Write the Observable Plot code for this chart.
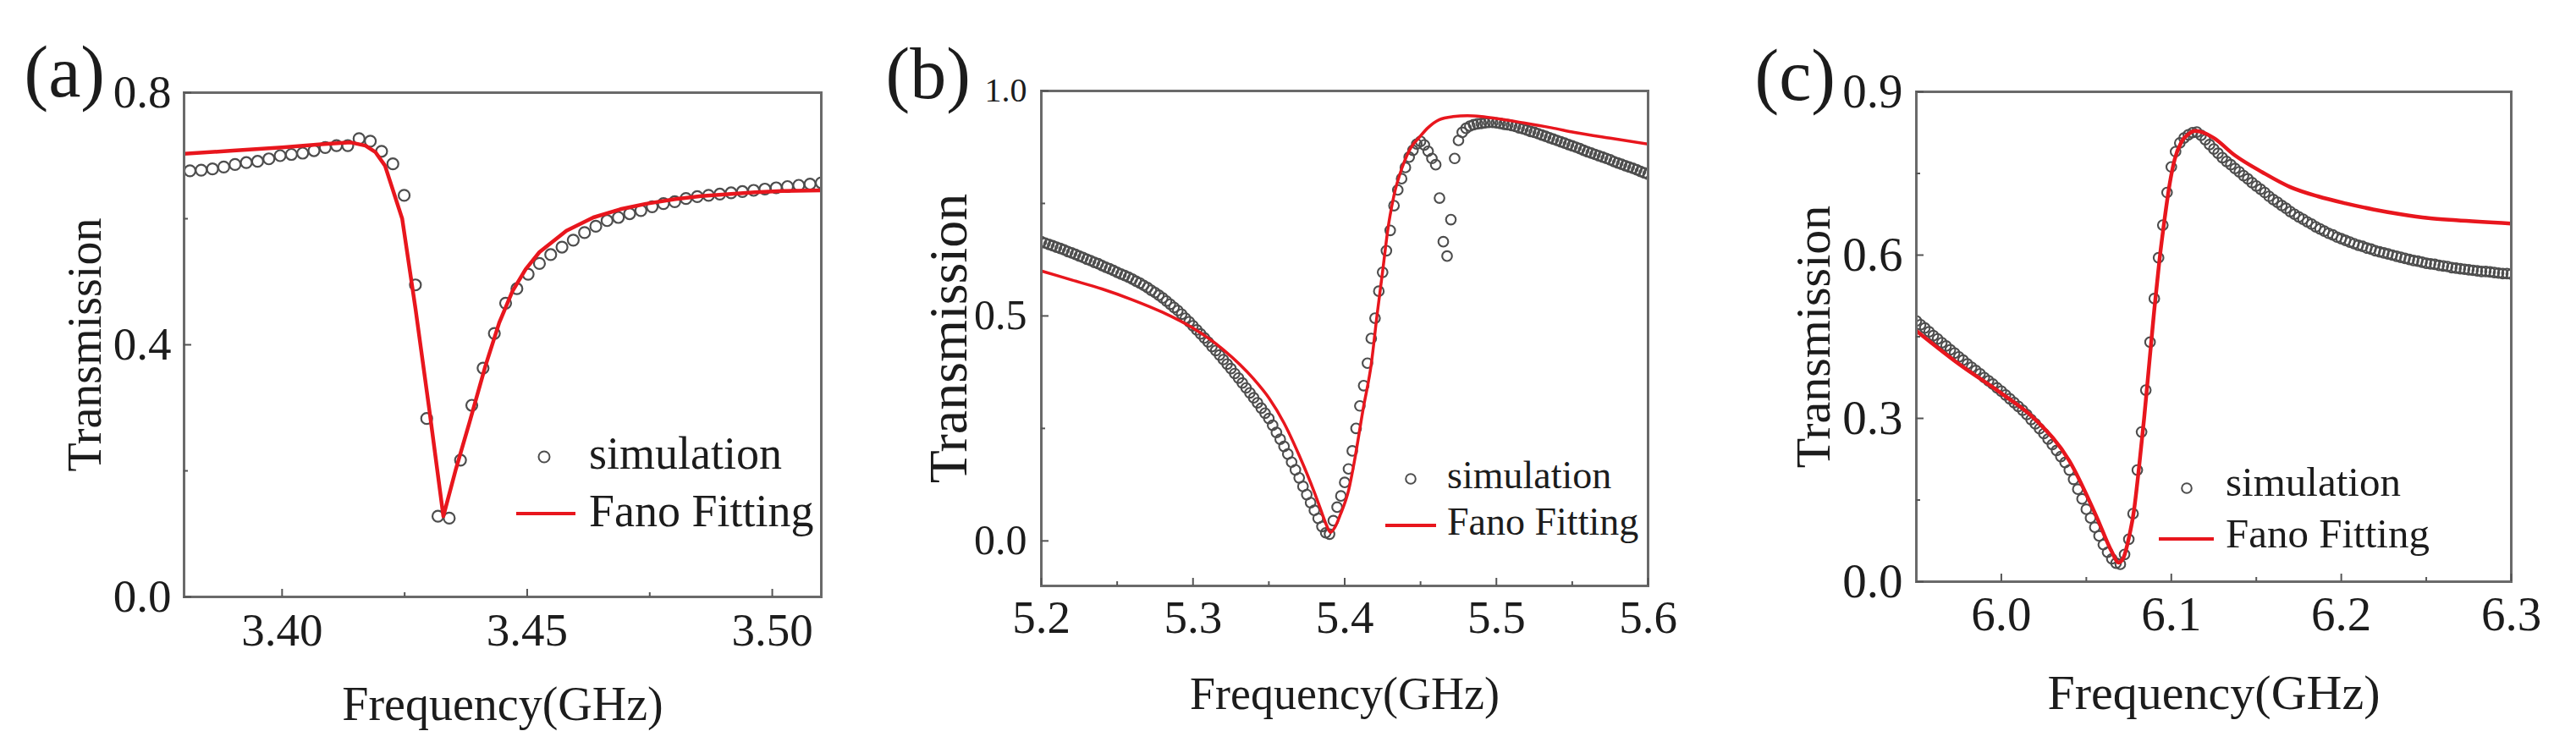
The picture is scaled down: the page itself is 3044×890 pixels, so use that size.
<!DOCTYPE html>
<html><head><meta charset="utf-8">
<script src="https://cdn.jsdelivr.net/npm/d3@7"></script>
<script src="https://cdn.jsdelivr.net/npm/@observablehq/plot@0.6"></script>
<style>
html,body{margin:0;padding:0;background:#fff;}
#fig{position:relative;width:3044px;height:890px;background:#fff;overflow:hidden;}
#fig svg{position:absolute;top:0;overflow:visible;}
</style></head><body><div id="fig"></div>
<script>
// ---------- Panel (a) ----------
const freqA = [3.3812,3.3835,3.3858,3.3881,3.3904,3.3927,3.3950,3.3973,3.3996,3.4019,3.4042,3.4065,3.4088,3.4111,3.4134,
3.4157,3.4180,3.4203,3.4226,3.4249,3.4272,3.4295,3.4318,3.4341,3.4364,3.4387,3.4410,3.4433,3.4456,3.4479,
3.4502,3.4525,3.4548,3.4571,3.4594,3.4617,3.4640,3.4663,3.4686,3.4709,3.4732,3.4755,3.4778,3.4801,3.4824,
3.4847,3.4870,3.4893,3.4916,3.4939,3.4962,3.4985,3.5008,3.5031,3.5054,3.5077,3.5100];
const simA = [0.676,0.677,0.679,0.682,0.686,0.689,0.691,0.695,0.700,0.702,0.704,0.708,0.713,0.716,0.716,
0.727,0.723,0.707,0.687,0.637,0.495,0.283,0.128,0.125,0.217,0.304,0.363,0.418,0.466,0.489,
0.512,0.529,0.543,0.555,0.566,0.578,0.588,0.597,0.602,0.608,0.613,0.619,0.624,0.627,0.632,
0.635,0.637,0.639,0.641,0.643,0.645,0.647,0.649,0.651,0.653,0.655,0.657];
const fitFreqA = [3.3800,3.3900,3.4000,3.4080,3.4140,3.4170,3.4190,3.4210,3.4245,3.4272,3.4300,3.4329,3.4355,3.4382,3.4415,
3.4443,3.4470,3.4497,3.4525,3.4580,3.4635,3.4690,3.4745,3.4800,3.4855,3.4910,3.4965,3.5020,3.5100];
const fitA = [0.703,0.708,0.713,0.718,0.721,0.716,0.706,0.684,0.600,0.458,0.299,0.128,0.204,0.276,0.367,
0.435,0.485,0.520,0.547,0.581,0.602,0.615,0.624,0.631,0.636,0.639,0.642,0.644,0.645];
const xTicksA = [3.40, 3.45, 3.50], xMinorA = [3.425, 3.475];
const yTicksA = [0.0, 0.4, 0.8], yMinorA = [0.2, 0.6];

// ---------- Panel (b) ----------
const freqB = [5.2000,5.2025,5.2050,5.2075,5.2100,5.2125,5.2150,5.2175,
5.2200,5.2225,5.2250,5.2275,5.2300,5.2325,5.2350,5.2375,
5.2400,5.2425,5.2450,5.2475,5.2500,5.2525,5.2550,5.2575,
5.2600,5.2625,5.2650,5.2675,5.2700,5.2725,5.2750,5.2775,
5.2800,5.2825,5.2850,5.2875,5.2900,5.2925,5.2950,5.2975,
5.3000,5.3025,5.3050,5.3075,5.3100,5.3125,5.3150,5.3175,
5.3200,5.3225,5.3250,5.3275,5.3300,5.3325,5.3350,5.3375,
5.3400,5.3425,5.3450,5.3475,5.3500,5.3525,5.3550,5.3575,
5.3600,5.3625,5.3650,5.3675,5.3700,5.3725,5.3750,5.3775,
5.3800,5.3825,5.3850,5.3875,5.3900,5.3925,5.3950,5.3975,
5.4000,5.4025,5.4050,5.4075,5.4100,5.4125,5.4150,5.4175,
5.4200,5.4225,5.4250,5.4275,5.4300,5.4325,5.4350,5.4375,
5.4400,5.4425,5.4450,5.4475,5.4500,5.4525,5.4550,5.4575,
5.4600,5.4625,5.4650,5.4675,5.4700,5.4725,5.4750,5.4775,
5.4800,5.4825,5.4850,5.4875,5.4900,5.4925,5.4950,5.4975,
5.5000,5.5025,5.5050,5.5075,5.5100,5.5125,5.5150,5.5175,
5.5200,5.5225,5.5250,5.5275,5.5300,5.5325,5.5350,5.5375,
5.5400,5.5425,5.5450,5.5475,5.5500,5.5525,5.5550,5.5575,
5.5600,5.5625,5.5650,5.5675,5.5700,5.5725,5.5750,5.5775,
5.5800,5.5825,5.5850,5.5875,5.5900,5.5925,5.5950,5.5975,
5.6000];
const simB = [0.665,0.662,0.659,0.656,0.653,0.650,0.647,0.643,
0.640,0.637,0.633,0.630,0.626,0.623,0.619,0.616,
0.612,0.608,0.605,0.601,0.597,0.593,0.590,0.586,
0.582,0.577,0.573,0.568,0.563,0.557,0.552,0.546,
0.540,0.533,0.526,0.519,0.512,0.504,0.495,0.487,
0.478,0.469,0.460,0.451,0.442,0.432,0.423,0.413,
0.403,0.393,0.383,0.372,0.362,0.351,0.340,0.329,
0.318,0.307,0.295,0.284,0.272,0.257,0.241,0.226,
0.210,0.193,0.175,0.158,0.140,0.121,0.103,0.085,
0.068,0.050,0.032,0.018,0.015,0.045,0.075,0.100,
0.130,0.160,0.200,0.250,0.300,0.345,0.395,0.450,
0.495,0.555,0.597,0.645,0.690,0.745,0.780,0.805,
0.830,0.853,0.868,0.882,0.888,0.880,0.866,0.850,
0.836,0.762,0.665,0.633,0.714,0.850,0.890,0.908,
0.917,0.922,0.925,0.927,0.928,0.929,0.930,0.930,
0.929,0.928,0.926,0.925,0.923,0.921,0.918,0.916,
0.913,0.910,0.908,0.905,0.902,0.899,0.896,0.893,
0.890,0.887,0.884,0.881,0.878,0.875,0.872,0.868,
0.865,0.862,0.859,0.856,0.853,0.850,0.847,0.843,
0.840,0.837,0.834,0.831,0.828,0.825,0.821,0.818,
0.815];
const fitFreqB = [5.200,5.220,5.240,5.260,5.280,5.300,5.320,5.340,5.350,5.360,
5.370,5.380,5.385,5.388,5.3906,5.3935,5.3971,5.4027,5.4064,5.4120,
5.4176,5.4213,5.4250,5.4287,5.4325,5.4381,5.4436,5.4492,5.4548,5.4622,
5.4715,5.4809,5.4902,5.4995,5.5180,5.5366,5.5515,5.5750,5.6000];
const fitB = [0.600,0.580,0.560,0.536,0.508,0.473,0.425,0.360,0.318,0.262,
0.190,0.108,0.062,0.035,0.019,0.030,0.058,0.114,0.177,0.290,
0.395,0.501,0.599,0.698,0.768,0.832,0.874,0.897,0.918,0.936,
0.943,0.945,0.943,0.939,0.929,0.918,0.908,0.895,0.882];
const xTicksB = [5.2, 5.3, 5.4, 5.5, 5.6], xMinorB = [5.25, 5.35, 5.45, 5.55];
const yTicksB = [0.0, 0.5, 1.0], yMinorB = [0.25, 0.75];

// ---------- Panel (c) ----------
const freqC = [5.9500,5.9525,5.9550,5.9575,5.9600,5.9625,5.9650,5.9675,
5.9700,5.9725,5.9750,5.9775,5.9800,5.9825,5.9850,5.9875,
5.9900,5.9925,5.9950,5.9975,6.0000,6.0025,6.0050,6.0075,
6.0100,6.0125,6.0150,6.0175,6.0200,6.0225,6.0250,6.0275,
6.0300,6.0325,6.0350,6.0375,6.0400,6.0425,6.0450,6.0475,
6.0500,6.0525,6.0550,6.0575,6.0600,6.0625,6.0650,6.0675,
6.0700,6.0725,6.0750,6.0775,6.0800,6.0825,6.0850,6.0875,
6.0900,6.0925,6.0950,6.0975,6.1000,6.1025,6.1050,6.1075,
6.1100,6.1125,6.1150,6.1175,6.1200,6.1225,6.1250,6.1275,
6.1300,6.1325,6.1350,6.1375,6.1400,6.1425,6.1450,6.1475,
6.1500,6.1525,6.1550,6.1575,6.1600,6.1625,6.1650,6.1675,
6.1700,6.1725,6.1750,6.1775,6.1800,6.1825,6.1850,6.1875,
6.1900,6.1925,6.1950,6.1975,6.2000,6.2025,6.2050,6.2075,
6.2100,6.2125,6.2150,6.2175,6.2200,6.2225,6.2250,6.2275,
6.2300,6.2325,6.2350,6.2375,6.2400,6.2425,6.2450,6.2475,
6.2500,6.2525,6.2550,6.2575,6.2600,6.2625,6.2650,6.2675,
6.2700,6.2725,6.2750,6.2775,6.2800,6.2825,6.2850,6.2875,
6.2900,6.2925,6.2950,6.2975,
6.3000];
const simC = [0.479,0.472,0.466,0.459,0.452,0.446,0.439,0.433,
0.426,0.420,0.413,0.407,0.400,0.394,0.388,0.382,
0.375,0.369,0.363,0.356,0.350,0.343,0.336,0.329,
0.322,0.315,0.307,0.298,0.290,0.281,0.272,0.262,
0.252,0.241,0.230,0.219,0.205,0.188,0.170,0.152,
0.133,0.117,0.100,0.084,0.068,0.054,0.042,0.034,
0.032,0.050,0.078,0.125,0.205,0.275,0.352,0.440,
0.520,0.595,0.655,0.715,0.762,0.790,0.806,0.815,
0.821,0.825,0.826,0.820,0.812,0.803,0.795,0.787,
0.779,0.772,0.766,0.759,0.753,0.746,0.740,0.733,
0.727,0.721,0.715,0.708,0.702,0.697,0.691,0.686,
0.680,0.675,0.670,0.666,0.661,0.657,0.652,0.648,
0.644,0.640,0.637,0.633,0.630,0.627,0.624,0.621,
0.618,0.616,0.613,0.611,0.608,0.606,0.604,0.602,
0.600,0.598,0.596,0.594,0.592,0.590,0.589,0.587,
0.585,0.584,0.583,0.581,0.580,0.579,0.577,0.576,
0.575,0.574,0.573,0.572,0.571,0.570,0.570,0.569,
0.568,0.567,0.566,0.566,
0.565];
const fitFreqC = [5.950,5.975,6.000,6.020,6.040,6.0562,6.065,6.069,6.072,6.075,
6.078,6.081,6.084,6.087,6.090,6.093,6.096,6.099,6.102,6.106,
6.110,6.114,6.118,6.125,6.1375,6.1537,6.170,6.1862,6.2025,6.2187,
6.235,6.2512,6.2675,6.300];
const fitC = [0.461,0.400,0.346,0.298,0.222,0.118,0.055,0.035,0.045,0.080,
0.130,0.210,0.300,0.400,0.500,0.590,0.665,0.730,0.776,0.808,
0.822,0.828,0.826,0.815,0.783,0.752,0.725,0.708,0.695,0.684,
0.675,0.668,0.664,0.658];
const xTicksC = [6.0, 6.1, 6.2, 6.3], xMinorC = [6.05, 6.15, 6.25];
const yTicksC = [0.0, 0.3, 0.6, 0.9], yMinorC = [0.15, 0.45, 0.75];

const legendTexts = ["simulation", "Fano Fitting"];
const panelLabels = ["(a)", "(b)", "(c)"];
const xTitle = "Frequency(GHz)", yTitle = "Transmission";

// ---------- styling ----------
const FONT = "'Liberation Serif','Times New Roman',Times,serif";
const INK = "#1c1c1c", FRAME = "#6a6a6a", TICK = "#555", DOT = "#4d4d4d", RED = "#e8161d";

function legendMark(L) {
  return (index, scales, values, dims) => {
    const ox = dims.marginLeft, oy = dims.marginTop;
    const g = d3.create("svg:g").attr("font-family", FONT).attr("font-size", L.fontSize)
      .attr("fill", INK).attr("text-anchor", "start");
    g.append("circle").attr("cx", ox + L.cx).attr("cy", oy + L.cy).attr("r", L.r)
      .attr("fill", "none").attr("stroke", DOT).attr("stroke-width", 2);
    g.append("text").attr("x", ox + L.tx).attr("y", oy + L.simY).text(legendTexts[0]);
    g.append("line").attr("x1", ox + L.lx1).attr("x2", ox + L.lx2).attr("y1", oy + L.ly).attr("y2", oy + L.ly)
      .attr("stroke", RED).attr("stroke-width", 4);
    g.append("text").attr("x", ox + L.tx).attr("y", oy + L.fitY).text(legendTexts[1]);
    return g.node();
  };
}

function panel(c) {
  const sim = c.freq.map((f, i) => ({f, t: c.sim[i]}));
  const fit = c.fitFreq.map((f, i) => ({f, t: c.fit[i]}));
  const yLabelMarks = c.yGroups.map(gp =>
    Plot.axisY({ticks: gp.ticks, tickSize: 0, tickPadding: c.yPad, tickFormat: d3.format(c.yFmt), fontSize: gp.font, fill: INK, label: null}));
  const svg = Plot.plot({
    width: c.width, height: 890,
    marginLeft: c.ml, marginRight: c.mr, marginTop: c.mt, marginBottom: c.mb,
    style: {fontFamily: FONT, background: "transparent", color: INK, overflow: "visible"},
    x: {domain: c.xDomain},
    y: {domain: c.yDomain},
    marks: [
      Plot.dot(sim, {x: "f", y: "t", r: c.r, stroke: DOT, strokeWidth: c.sw, fill: "none", clip: true}),
      Plot.line(fit, {x: "f", y: "t", stroke: RED, strokeWidth: c.lw, curve: c.curve, clip: true}),
      Plot.frame({stroke: FRAME, strokeWidth: 3}),
      Plot.axisX({ticks: c.xTicks, tickSize: -9, fill: "none", stroke: TICK, strokeWidth: 2, label: null, tickFormat: () => ""}),
      Plot.axisX({ticks: c.xMinor, tickSize: -5, fill: "none", stroke: TICK, strokeWidth: 2, label: null, tickFormat: () => ""}),
      Plot.axisY({ticks: c.yTicks, tickSize: -9, fill: "none", stroke: TICK, strokeWidth: 2, label: null, tickFormat: () => ""}),
      Plot.axisY({ticks: c.yMinor, tickSize: -5, fill: "none", stroke: TICK, strokeWidth: 2, label: null, tickFormat: () => ""}),
      Plot.axisX({ticks: c.xTicks, tickSize: 0, tickPadding: c.xPad, tickFormat: d3.format(c.xFmt), fontSize: c.xFont, fill: INK, label: null}),
      ...yLabelMarks,
      Plot.text([xTitle], {frameAnchor: "bottom", textAnchor: "middle", dy: c.xTitleDy, lineAnchor: "bottom", fontSize: c.xTitleFont, fill: INK}),
      Plot.text([yTitle], {frameAnchor: "left", textAnchor: "middle", rotate: -90, dx: c.yTitleDx, lineAnchor: "bottom", fontSize: c.yTitleFont, fill: INK}),
      Plot.text([c.label], {frameAnchor: "top-left", textAnchor: "start", lineAnchor: "bottom", dx: c.labelDx, dy: c.labelDy, fontSize: 86, fill: INK}),
      legendMark(c.legend)
    ]
  });
  svg.style.left = c.left + "px";
  document.getElementById("fig").appendChild(svg);
}

panel({
  freq: freqA, sim: simA, fitFreq: fitFreqA, fit: fitA,
  xTicks: xTicksA, xMinor: xMinorA, yTicks: yTicksA, yMinor: yMinorA,
  yGroups: [{ticks: yTicksA, font: 55}],
  xDomain: [3.38, 3.51], yDomain: [0, 0.8], xFmt: ".2f", yFmt: ".1f",
  left: 0, width: 1000, ml: 217, mr: 30, mt: 109, mb: 185,
  r: 6.5, sw: 2.2, lw: 4.5, curve: "linear",
  xFont: 55, xPad: 18, yPad: 15,
  xTitleFont: 56, xTitleDy: 145, yTitleFont: 56, yTitleDx: -99,
  label: panelLabels[0], labelDx: -189, labelDy: 4,
  legend: {cx: 426, cy: 431, r: 6.5, tx: 479, simY: 445, lx1: 393, lx2: 463, ly: 498, fitY: 513, fontSize: 54}
});
panel({
  freq: freqB, sim: simB, fitFreq: fitFreqB, fit: fitB,
  xTicks: xTicksB, xMinor: xMinorB, yTicks: yTicksB, yMinor: yMinorB,
  yGroups: [{ticks: [0.0, 0.5], font: 50}, {ticks: [1.0], font: 40}],
  xDomain: [5.2, 5.6], yDomain: [-0.1, 1.0], xFmt: ".1f", yFmt: ".1f",
  left: 1000, width: 1010, ml: 230, mr: 63, mt: 107, mb: 198,
  r: 5.8, sw: 2.1, lw: 3.5, curve: "monotone-x",
  xFont: 55, xPad: 16, yPad: 17,
  xTitleFont: 54, xTitleDy: 145, yTitleFont: 64, yTitleDx: -89,
  label: panelLabels[1], labelDx: -184, labelDy: 8,
  legend: {cx: 437, cy: 459, r: 5.8, tx: 480, simY: 470, lx1: 407, lx2: 467, ly: 514, fitY: 525, fontSize: 46}
});
panel({
  freq: freqC, sim: simC, fitFreq: fitFreqC, fit: fitC,
  xTicks: xTicksC, xMinor: xMinorC, yTicks: yTicksC, yMinor: yMinorC,
  yGroups: [{ticks: yTicksC, font: 57}],
  xDomain: [5.95, 6.3], yDomain: [0, 0.9], xFmt: ".1f", yFmt: ".1f",
  left: 2010, width: 1034, ml: 254, mr: 77, mt: 108, mb: 203,
  r: 5.8, sw: 2.1, lw: 4.5, curve: "monotone-x",
  xFont: 57, xPad: 17, yPad: 16,
  xTitleFont: 58, xTitleDy: 150, yTitleFont: 58, yTitleDx: -103,
  label: panelLabels[2], labelDx: -191, labelDy: 9,
  legend: {cx: 320, cy: 469, r: 5.8, tx: 366, simY: 478, lx1: 287, lx2: 352, ly: 529, fitY: 539, fontSize: 49}
});
</script>
</body></html>
